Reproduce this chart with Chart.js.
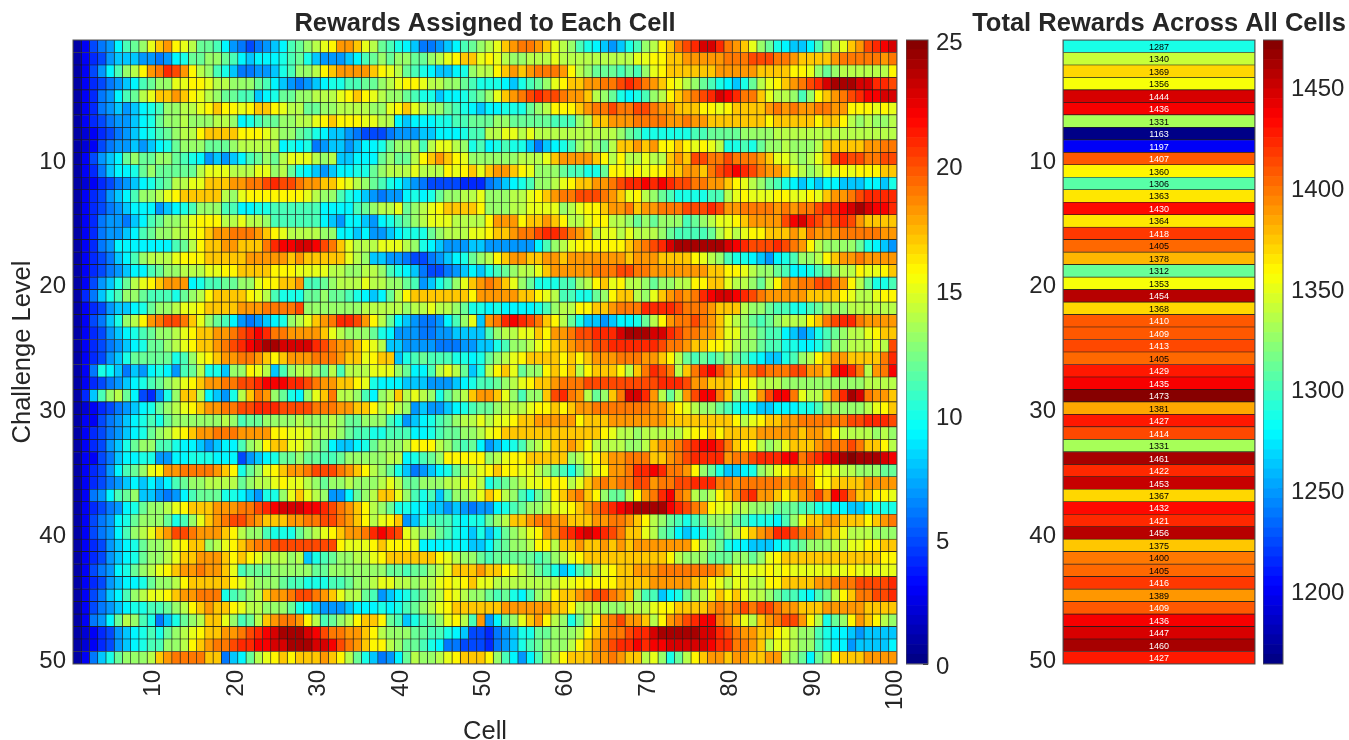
<!DOCTYPE html>
<html>
<head>
<meta charset="utf-8">
<title>Rewards</title>
<script src="https://cdn.jsdelivr.net/npm/chart.js@4/dist/chart.umd.min.js"></script>
<style>
  html, body { margin: 0; padding: 0; background: #fff; overflow: hidden; }
  body { position: relative; width: 1349px; height: 740px; }
  canvas { position: absolute; top: 0; }
</style>
</head>
<body>
<canvas id="heat-chart" style="left:0" width="970" height="747"></canvas>
<canvas id="heat-bar" style="left:906px" width="80" height="740"></canvas>
<canvas id="total-chart" style="left:969px" width="380" height="740"></canvas>
<canvas id="total-bar" style="left:1263px" width="86" height="740"></canvas>
<script>
var cellTicks = [10, 20, 30, 40, 50, 60, 70, 80, 90, 100];
var levelTicks = [10, 20, 30, 40, 50];
var heatBarTicks = [0, 5, 10, 15, 20, 25];
var totalBarTicks = [1200, 1250, 1300, 1350, 1400, 1450];

var totalRewards = [1287, 1340, 1369, 1356, 1444, 1436, 1331, 1163, 1197, 1407,
  1360, 1306, 1363, 1430, 1364, 1418, 1405, 1378, 1312, 1353,
  1454, 1368, 1410, 1409, 1413, 1405, 1429, 1435, 1473, 1381,
  1427, 1414, 1331, 1461, 1422, 1453, 1367, 1432, 1421, 1456,
  1375, 1400, 1405, 1416, 1389, 1409, 1436, 1447, 1460, 1427];

// one row per challenge level, 100 cells each
var cellRewards = [
[1,3,5,6,7,9,11,12,13,15,17,18,16,15,14,12,12,11,9,7,6,5,6,7,8,9,11,12,13,14,15,16,18,18,17,15,14,12,11,10,9,8,6,6,7,8,9,11,12,13,14,15,17,18,19,19,18,17,15,14,13,11,10,9,8,7,8,10,11,13,14,16,17,19,20,21,23,23,21,19,18,17,15,13,12,10,9,8,8,9,11,13,14,15,17,18,20,21,22,23],
[1,3,4,5,7,8,8,8,7,7,6,7,9,10,12,12,13,13,12,11,9,8,9,9,9,10,11,12,10,8,7,7,7,8,9,11,12,13,12,13,13,12,12,13,14,15,16,17,17,15,16,15,14,13,13,14,14,14,15,14,14,14,14,14,14,14,14,14,15,15,16,16,17,17,18,18,18,18,18,19,19,19,20,20,20,19,19,18,17,17,17,17,18,19,19,19,19,19,18,19],
[1,3,5,7,9,11,13,14,16,18,19,21,20,18,16,14,13,11,10,8,6,6,7,7,8,10,11,13,13,14,16,17,18,18,18,18,17,16,15,14,12,11,10,9,8,8,9,10,13,14,14,16,17,18,17,18,19,19,19,18,16,14,13,12,12,12,11,12,11,13,15,16,17,17,17,17,17,17,18,18,18,18,18,17,17,17,17,16,16,15,13,12,13,14,14,14,14,14,14,16],
[1,3,4,5,6,7,8,9,11,12,13,13,15,15,16,16,15,14,14,13,13,13,12,11,9,8,7,6,7,8,9,10,10,11,11,12,12,13,14,15,16,16,15,14,14,13,13,12,11,10,10,10,9,8,10,11,12,13,15,16,17,17,18,18,19,19,20,21,20,19,18,17,16,15,14,13,12,11,10,9,8,10,12,14,15,16,17,18,19,20,21,23,24,24,24,23,23,21,21,20],
[1,3,4,6,7,9,11,12,14,15,17,17,18,17,16,15,14,13,12,12,11,11,8,9,10,12,12,13,13,14,14,14,15,16,17,16,15,14,13,13,12,11,10,10,8,9,9,10,11,12,13,15,17,18,19,20,21,20,20,19,18,18,17,14,13,12,10,9,10,11,13,14,16,17,18,19,20,21,23,22,21,19,19,17,15,14,14,13,11,13,16,17,18,19,20,21,22,22,23,23],
[1,3,4,6,7,8,7,8,9,10,11,13,13,14,14,15,16,17,16,16,15,16,17,17,16,15,14,14,12,12,13,13,14,14,14,14,13,13,15,16,17,15,14,13,13,12,11,10,9,8,9,9,10,10,10,12,13,14,16,16,16,17,18,19,19,20,19,19,20,20,19,18,18,17,17,17,16,16,15,16,17,17,17,17,18,19,18,19,18,18,19,19,18,18,16,16,16,15,16,15],
[1,3,4,5,6,7,7,8,9,10,12,13,13,14,13,13,13,14,14,13,9,10,11,12,12,13,13,14,14,15,16,17,16,16,16,15,15,14,14,9,8,9,9,9,10,10,11,11,12,12,12,13,13,12,12,12,12,12,11,11,11,13,14,17,17,18,18,18,19,19,19,19,18,18,19,18,18,17,17,17,17,17,17,17,16,17,17,17,17,17,16,17,17,16,14,13,14,13,13,14],
[1,2,3,4,5,6,7,8,9,10,11,12,13,14,14,16,17,17,17,17,16,16,16,15,14,13,13,12,11,10,9,8,8,7,6,5,5,5,6,7,7,7,8,8,9,9,9,10,11,11,14,14,15,15,14,15,14,14,14,14,14,14,14,14,14,14,13,12,11,10,10,10,10,10,10,11,11,12,12,12,12,13,13,13,13,14,14,14,14,14,14,14,14,14,14,14,14,14,14,14],
[1,2,3,5,6,7,7,8,7,8,9,10,12,13,13,13,12,12,12,13,14,14,14,14,14,9,10,9,10,6,7,8,8,7,8,9,9,10,12,13,13,14,11,14,15,15,14,13,10,11,9,10,11,10,10,8,6,8,9,10,11,13,14,13,12,14,17,17,18,17,18,16,16,17,16,15,16,15,14,10,10,11,10,12,13,13,14,13,13,13,14,17,17,17,17,17,18,18,19,19],
[1,3,5,7,8,9,12,13,12,12,13,13,12,11,10,9,7,8,7,8,9,11,12,13,12,14,15,15,15,14,13,14,8,8,9,9,9,12,13,12,12,14,16,17,18,17,16,15,13,13,13,13,13,13,14,14,14,15,17,18,18,18,18,17,16,14,16,14,14,15,14,14,17,18,17,20,20,19,19,20,19,19,19,18,17,15,15,14,13,14,15,17,20,21,20,20,19,19,20,20],
[1,3,4,6,8,9,9,10,12,13,12,12,12,12,12,14,15,15,15,14,14,14,15,15,13,14,12,10,9,8,7,8,9,9,10,10,12,13,14,14,14,15,14,14,14,16,15,16,17,15,17,18,18,17,16,15,13,13,13,12,11,11,10,10,12,16,16,15,16,15,16,16,17,17,18,18,17,19,20,21,22,21,20,19,18,18,17,15,14,13,14,15,15,16,15,16,16,16,17,17],
[1,2,3,4,5,6,7,8,9,10,11,12,14,14,15,15,17,17,17,18,18,19,19,20,21,20,20,19,18,18,17,17,16,15,14,13,12,11,10,9,8,7,6,5,5,5,5,4,4,4,6,7,8,9,10,11,13,13,14,15,16,17,17,18,18,19,20,21,21,22,21,22,21,20,20,19,19,18,18,17,16,15,14,13,12,11,10,9,8,9,8,9,9,8,8,8,9,9,8,10],
[1,3,4,5,7,8,9,11,13,13,14,15,16,17,17,17,17,17,14,13,15,16,16,16,16,16,16,16,15,14,13,13,11,10,9,8,7,6,7,7,9,10,9,10,12,13,13,14,14,15,13,13,13,14,14,15,16,17,18,19,19,20,20,20,19,18,17,15,16,14,13,12,11,10,10,10,10,11,11,14,15,16,15,15,15,16,16,15,15,16,15,17,18,18,19,20,21,21,21,21],
[1,3,4,5,6,7,8,9,9,9,7,8,9,10,11,13,13,13,11,11,9,9,10,10,11,11,11,11,11,11,9,9,9,9,11,12,13,14,14,15,12,13,14,15,16,17,17,17,17,16,13,13,13,14,14,15,15,15,15,13,14,15,16,16,17,18,18,19,17,18,18,19,19,19,20,20,20,21,20,18,18,19,19,19,19,18,19,18,19,19,20,21,21,22,23,24,23,22,22,21],
[1,3,4,6,7,7,6,8,9,11,12,13,13,14,15,16,16,16,14,14,15,14,14,13,11,11,11,11,11,11,9,8,7,9,9,8,7,9,10,11,12,13,14,15,15,15,14,14,14,14,16,18,18,18,16,17,17,18,17,16,14,14,15,16,16,14,14,13,12,13,12,13,13,13,11,12,13,14,15,15,16,17,18,18,18,18,20,22,23,21,20,19,20,21,20,18,17,17,17,17],
[1,3,4,6,7,7,8,9,11,12,13,13,14,14,15,16,17,18,18,19,19,19,18,17,16,15,14,14,14,14,13,13,9,9,8,9,7,7,8,9,10,10,10,12,13,14,14,14,15,15,16,17,17,18,19,19,20,21,21,20,19,18,17,14,15,15,14,15,14,14,14,13,12,11,11,11,11,12,14,15,14,15,16,16,17,17,17,18,17,19,18,18,18,19,19,19,19,19,18,18],
[1,3,4,6,7,9,9,9,9,9,9,9,11,12,14,16,17,17,18,18,17,17,17,19,21,22,22,23,23,22,20,19,17,15,14,14,14,15,15,15,14,13,10,9,8,7,7,7,8,8,7,7,7,7,7,7,9,11,13,14,15,16,16,16,16,16,16,17,18,19,20,21,23,24,24,24,24,24,24,23,22,21,20,20,20,21,20,19,18,16,14,13,13,13,13,12,10,9,8,7],
[1,3,4,5,6,8,9,11,13,14,14,14,15,16,16,16,17,17,17,17,17,18,18,18,18,18,17,18,17,17,17,17,17,15,14,13,8,8,7,7,6,5,5,6,7,8,9,10,12,13,14,16,17,18,18,17,17,18,18,17,18,18,18,18,18,18,18,17,18,18,18,17,17,17,17,16,15,14,13,11,10,10,9,8,7,9,10,11,13,13,14,16,17,18,18,19,18,18,18,18],
[1,3,4,5,6,7,8,9,9,11,12,13,13,14,14,14,15,15,16,16,17,17,17,17,16,16,16,15,15,15,15,14,14,13,13,14,14,13,11,10,9,8,6,5,5,6,7,8,9,8,10,11,12,13,14,14,15,17,18,18,18,18,18,19,19,19,20,20,19,19,18,18,18,18,18,18,18,17,17,16,16,15,14,13,13,12,11,9,9,10,11,12,13,14,14,16,15,15,16,17],
[1,3,5,7,8,10,12,14,15,16,17,18,18,18,9,10,11,11,12,12,13,13,15,16,16,17,17,18,11,11,12,13,14,14,14,15,14,14,13,13,12,11,7,8,10,11,13,15,17,18,19,18,17,15,13,12,10,10,10,11,11,13,14,16,17,15,16,14,14,13,12,13,13,14,14,16,16,17,17,15,14,14,13,12,14,16,18,18,19,19,20,20,19,18,16,14,12,10,10,11],
[1,4,6,8,10,11,13,13,12,11,11,11,10,12,13,14,16,17,17,17,17,16,15,14,11,10,10,10,12,12,13,12,12,11,10,9,8,9,12,14,16,17,17,17,17,17,17,17,16,18,18,18,18,18,17,17,16,15,14,11,11,10,10,12,13,16,17,17,14,13,15,17,18,19,18,19,21,22,23,23,22,21,20,19,18,18,18,18,18,17,17,17,17,16,15,14,14,15,16,16],
[1,3,4,5,7,8,8,9,10,12,13,13,14,15,15,16,17,17,17,17,18,18,18,19,19,19,19,20,13,13,13,13,13,13,13,14,14,14,14,14,13,14,14,15,14,14,13,12,10,10,9,10,9,9,9,9,10,11,13,14,14,16,16,17,17,18,19,19,19,21,21,21,21,20,19,19,19,18,17,17,17,14,13,13,12,11,11,10,10,11,12,13,13,13,14,14,14,14,14,14],
[1,3,5,6,8,10,13,14,16,18,19,20,20,19,17,15,13,12,11,9,7,6,7,8,9,10,13,14,15,17,18,19,21,21,20,18,16,14,12,9,8,7,6,6,7,9,11,13,15,8,18,19,21,22,21,20,19,17,16,14,12,10,8,8,7,8,9,9,10,12,14,16,18,19,19,20,19,18,17,15,14,13,12,11,12,13,14,14,14,16,17,19,20,21,21,19,18,18,18,18],
[1,3,4,5,7,8,9,10,11,12,13,13,14,15,16,17,17,18,18,19,20,21,22,21,19,19,18,18,18,18,17,15,14,13,13,13,12,10,9,7,7,7,6,6,7,7,8,8,8,8,11,13,14,14,15,15,17,16,18,18,19,20,20,21,21,21,23,24,24,24,23,23,21,20,19,19,18,18,17,15,15,13,13,12,11,11,9,8,7,8,10,11,12,13,14,14,15,16,17,17],
[1,3,4,5,6,7,8,9,10,12,12,13,14,15,16,17,17,18,19,20,21,22,23,24,24,23,23,23,23,21,20,19,18,18,17,16,15,14,8,8,7,7,7,7,6,6,6,7,7,8,8,10,11,13,13,14,15,16,17,17,18,19,19,20,20,21,21,21,21,21,21,20,19,19,18,17,17,16,16,15,14,13,13,12,11,11,10,10,9,9,10,11,13,13,14,14,14,15,14,20],
[1,3,4,5,7,8,10,12,12,12,12,12,10,11,13,15,16,17,18,18,19,19,18,17,16,17,18,18,18,19,19,19,18,17,17,15,16,17,17,8,10,11,12,11,11,11,10,10,9,10,12,13,14,15,16,17,17,17,17,16,17,16,17,18,18,18,19,19,19,18,18,17,16,14,12,11,12,11,12,13,12,11,10,9,8,8,10,11,13,14,16,17,18,18,17,17,17,17,19,21],
[1,3,6,10,9,8,6,8,7,9,10,9,7,11,12,14,10,10,8,13,13,16,15,14,8,11,13,14,14,13,12,14,11,14,14,14,15,15,15,13,12,9,9,11,14,15,14,12,8,10,14,16,17,15,12,13,13,16,17,16,17,14,16,17,17,17,16,14,17,19,21,20,19,14,17,19,21,22,20,18,17,18,19,20,19,19,19,20,20,18,18,17,21,22,21,19,14,18,19,22],
[1,3,4,5,6,7,8,9,10,11,12,13,14,15,16,17,18,18,19,19,20,20,21,22,22,22,21,21,20,19,18,18,17,17,16,15,10,9,9,9,8,8,8,7,7,7,8,9,10,11,11,12,13,14,15,16,17,17,18,19,19,19,20,20,20,20,20,20,20,20,20,21,21,21,20,18,18,17,17,17,16,16,15,14,14,14,13,13,13,13,13,13,13,13,13,13,14,14,14,14],
[1,4,8,11,13,14,12,9,5,4,7,10,13,17,17,14,9,8,7,10,14,17,19,18,13,12,10,9,13,15,17,19,14,14,13,11,9,13,14,17,14,15,14,13,10,12,13,14,17,18,18,17,15,13,11,13,13,17,20,21,19,18,14,12,13,17,19,23,23,21,18,14,12,14,18,20,22,22,19,17,13,13,15,18,20,22,22,19,15,14,14,17,19,21,24,23,19,18,18,17],
[1,2,3,4,5,6,7,8,9,10,12,13,14,15,16,17,18,18,19,19,20,20,21,21,21,20,20,20,20,19,19,19,18,18,17,17,16,14,15,14,13,7,8,7,7,8,9,10,11,12,12,13,14,14,14,15,16,16,17,16,17,18,18,19,19,19,19,19,19,19,18,18,17,16,15,14,13,13,12,11,10,9,9,8,8,9,9,9,10,10,11,13,13,13,13,13,14,15,16,17],
[1,3,3,5,6,7,8,9,10,11,10,12,13,13,13,13,13,13,14,13,11,12,12,13,13,13,13,14,13,13,13,14,13,12,12,13,13,13,11,10,7,8,9,10,11,12,13,14,14,15,14,15,15,16,17,17,18,18,18,18,18,16,17,17,17,18,18,18,18,18,18,18,17,17,17,17,17,17,17,17,16,14,15,16,17,17,18,18,19,19,19,19,19,19,20,20,21,21,21,20],
[1,3,4,5,6,7,8,9,10,12,13,14,15,16,17,18,18,19,19,19,18,18,18,18,16,16,15,15,15,14,14,14,13,12,11,11,10,10,11,11,11,9,9,10,11,12,12,13,13,14,15,16,17,17,17,17,17,17,17,17,17,17,17,17,16,15,14,14,13,14,14,14,14,14,15,16,16,17,16,17,17,17,17,18,18,18,18,18,17,18,18,17,16,14,14,14,14,13,14,13],
[1,3,4,5,7,8,10,12,13,13,11,11,10,9,9,8,7,8,9,9,11,13,14,16,17,17,15,15,14,13,12,9,8,8,9,10,12,13,13,13,14,16,16,16,14,13,12,11,12,9,7,8,9,10,11,13,14,15,17,17,18,17,16,14,14,14,14,13,13,14,17,18,18,19,20,21,22,22,21,19,17,16,16,14,13,14,15,17,17,17,18,19,19,19,20,19,17,17,16,14],
[1,3,3,5,6,8,9,9,10,10,7,7,9,9,10,10,10,9,9,9,5,7,8,9,10,12,12,13,12,12,11,11,12,13,13,13,13,13,14,14,9,10,11,12,13,16,16,16,16,16,13,14,15,16,16,17,17,17,17,17,13,14,15,16,17,18,18,19,19,19,17,17,18,19,20,21,21,21,21,18,19,19,20,21,21,21,22,22,19,20,21,22,23,24,25,24,24,24,23,22],
[1,3,4,5,7,9,11,12,13,15,16,18,18,19,19,19,19,18,17,16,10,12,13,15,16,17,18,18,19,20,20,20,19,18,17,16,14,13,12,10,8,6,7,8,9,10,12,13,14,15,16,17,16,16,15,15,14,13,12,11,10,12,14,15,16,18,18,19,21,21,22,21,19,19,18,16,13,12,10,8,8,9,10,13,14,15,16,17,17,17,16,15,15,14,14,13,13,13,12,12],
[1,3,4,5,6,7,8,9,8,9,8,9,11,12,13,13,14,14,14,14,12,13,14,14,15,16,15,15,14,13,12,13,13,14,13,13,13,14,15,14,12,12,13,13,13,14,14,15,15,14,10,11,12,13,14,15,15,16,16,16,14,15,17,18,19,18,19,19,20,20,18,19,19,20,20,21,21,21,19,19,18,19,19,19,19,19,18,19,19,18,16,16,17,17,17,17,18,18,18,18],
[1,3,6,7,9,11,12,13,8,8,7,6,7,9,11,12,12,12,10,10,9,8,7,10,10,13,15,17,15,14,13,7,7,9,12,13,14,17,17,15,13,11,10,11,8,11,13,13,14,15,17,16,14,13,11,10,12,13,16,17,18,19,17,16,13,12,12,14,16,18,19,21,22,19,18,14,13,14,16,17,18,20,21,18,18,17,16,17,18,19,20,18,22,21,19,17,17,16,16,15],
[1,3,4,5,6,7,9,10,12,13,13,14,15,16,17,17,17,18,18,18,19,19,20,21,22,23,23,23,22,22,21,20,19,18,17,16,14,13,12,10,10,9,9,8,8,7,8,7,6,7,7,9,10,11,12,13,13,14,15,15,16,17,18,19,20,21,22,23,24,24,24,24,22,21,20,19,18,16,15,15,14,14,13,13,13,12,12,12,11,11,10,10,9,9,8,8,9,10,10,10],
[1,3,5,6,7,9,10,12,13,13,13,12,10,11,13,15,17,18,19,20,20,19,18,17,17,17,18,18,19,19,20,20,19,18,17,16,14,15,16,17,7,8,10,11,11,11,10,9,10,10,12,13,14,17,17,18,19,19,18,18,17,17,17,18,18,19,19,18,17,16,14,13,12,11,10,11,12,13,13,13,12,11,10,10,10,9,11,13,15,17,17,18,18,17,17,17,16,17,18,19],
[1,3,5,6,7,9,11,13,14,15,17,18,20,20,19,18,18,18,17,16,14,13,13,11,10,10,10,12,13,14,15,16,17,18,18,19,21,22,21,20,15,14,13,13,12,11,10,9,8,10,8,10,12,13,14,15,16,18,18,20,21,22,23,22,21,20,19,17,17,15,14,12,11,9,8,9,10,11,12,13,14,16,17,18,19,21,21,20,19,19,18,17,17,15,14,14,14,13,13,13],
[1,3,4,5,7,8,9,10,12,13,13,14,15,16,17,17,13,14,15,16,17,18,19,19,20,20,20,20,20,20,20,20,16,15,15,15,16,17,16,16,16,15,9,9,9,9,9,9,8,8,9,11,12,13,13,14,16,16,14,17,17,18,17,17,18,17,18,17,18,18,18,18,18,18,18,16,14,13,12,10,9,9,8,8,8,9,10,11,12,13,13,13,14,14,15,15,16,16,17,17],
[1,3,4,5,7,8,9,10,12,13,13,14,15,17,17,18,18,18,17,16,17,16,15,14,14,14,13,14,8,10,11,12,13,13,14,14,15,16,17,17,17,17,17,17,16,15,14,13,13,12,11,12,12,12,12,12,11,12,13,14,15,16,17,17,17,17,17,17,17,17,17,17,16,14,13,13,13,12,12,12,13,13,12,13,15,16,17,17,17,17,17,17,17,17,17,17,17,17,16,16],
[1,3,5,6,7,9,10,12,13,14,15,16,17,18,18,19,18,18,17,15,11,12,12,12,13,13,13,13,13,12,12,13,13,13,13,13,13,13,12,12,11,12,12,13,14,15,17,17,17,18,17,17,16,15,14,13,12,11,10,8,9,11,12,14,15,16,17,17,18,18,18,19,19,19,19,19,19,19,18,17,15,15,15,15,16,15,16,15,15,15,15,15,15,15,16,15,15,15,15,15],
[1,3,4,5,7,8,9,9,10,12,13,13,14,16,17,17,17,17,17,16,15,14,13,13,13,12,11,11,10,10,10,11,11,12,13,13,14,15,15,14,14,13,14,14,15,16,15,16,17,15,15,14,14,14,14,14,14,14,14,15,15,16,16,16,16,16,17,17,17,17,18,18,18,18,18,17,17,16,15,14,15,15,14,14,16,16,17,17,17,17,18,18,19,19,19,20,20,20,20,21],
[1,3,5,6,8,9,11,13,14,15,15,16,17,18,18,19,19,19,10,11,12,13,14,17,18,18,19,20,20,19,18,17,15,14,14,12,11,7,8,9,10,11,12,13,14,16,15,14,13,13,12,11,12,10,9,11,13,14,16,17,17,18,19,20,20,19,18,17,13,11,11,8,9,10,12,13,14,15,17,16,17,15,14,14,13,12,11,11,10,9,11,12,14,16,17,19,19,20,20,21],
[1,3,5,6,7,8,9,10,10,11,11,12,13,14,16,17,18,17,17,16,15,14,14,13,13,13,12,10,9,8,7,7,7,8,9,9,9,10,9,10,11,12,13,14,15,16,17,17,17,17,17,17,18,18,18,18,18,18,17,17,16,14,14,14,13,13,13,14,14,14,15,16,16,17,17,17,17,18,19,18,19,20,19,20,20,19,18,18,17,17,17,18,18,18,18,18,17,17,17,17],
[1,3,6,7,9,12,14,13,11,10,6,8,10,12,13,14,17,17,15,13,11,12,14,17,18,19,19,18,16,14,11,12,13,14,16,17,17,16,12,11,8,10,11,12,13,15,16,14,11,18,7,9,12,13,15,17,18,16,14,13,10,12,14,16,18,19,20,18,18,17,14,16,18,19,20,21,22,22,19,18,17,15,14,17,18,19,20,20,18,16,14,10,12,13,16,18,17,16,14,13],
[1,2,3,4,5,7,8,9,10,11,10,12,13,14,15,16,17,17,18,18,19,20,21,22,23,24,24,24,23,22,20,19,19,18,18,17,16,14,13,13,13,12,12,11,11,10,9,8,5,5,4,6,7,8,10,10,12,12,13,13,13,14,16,17,18,19,19,20,21,21,23,24,24,24,24,24,23,23,21,20,19,18,18,17,17,16,15,14,13,13,11,10,9,9,8,7,8,8,8,8],
[1,2,3,4,5,7,8,9,10,11,11,13,13,14,16,17,18,19,19,20,21,21,22,22,23,23,24,24,24,23,23,22,20,19,18,17,16,16,14,13,12,12,11,10,9,6,6,5,5,5,4,6,7,8,10,11,12,13,13,13,14,16,17,18,19,20,21,21,22,21,22,22,23,23,23,23,23,22,21,21,19,19,18,17,14,15,15,14,13,13,11,10,9,9,7,8,8,8,8,9],
[1,3,6,8,10,12,13,13,13,14,17,18,19,19,19,19,17,17,6,8,9,12,14,15,16,17,16,17,17,17,18,17,16,14,12,10,8,6,7,9,12,14,13,13,14,15,16,17,17,17,16,13,11,9,7,9,11,13,14,16,17,17,17,18,18,19,18,17,17,14,15,13,10,12,14,16,17,18,18,17,18,18,17,17,18,18,14,13,12,9,12,13,16,17,17,17,18,18,18,18]
];

// MATLAB style jet, 64 steps
function jetColor(fraction) {
  var step = Math.min(63, Math.max(0, Math.floor(fraction * 64)));
  var x = (step + 0.5) / 64;
  function clamp(v) { return Math.round(255 * Math.max(0, Math.min(1, v))); }
  return 'rgb(' + clamp(Math.min(4 * x - 1.5, -4 * x + 4.5)) + ',' +
    clamp(Math.min(4 * x - 0.5, -4 * x + 3.5)) + ',' +
    clamp(Math.min(4 * x + 0.5, -4 * x + 2.5)) + ')';
}

var textColor = '#262626';
var fontFamily = '"Liberation Sans", Arial, sans-serif';
var tickFont = { family: fontFamily, size: 24 };
var labelFont = { family: fontFamily, size: 25.5 };
var titleFont = { family: fontFamily, size: 25.5, weight: 'bold', lineHeight: 1.1 };
var titlePadding = { top: 10, bottom: 1.95 };
var totalMin = 1163;
var totalMax = 1473;

var levelLabels = cellRewards.map(function (row, i) { return i + 1; });

// box around the plot area
var framePlugin = {
  id: 'frame',
  afterDraw: function (chart) {
    var a = chart.chartArea;
    var ctx = chart.ctx;
    ctx.save();
    ctx.strokeStyle = '#555';
    ctx.lineWidth = 1;
    ctx.strokeRect(a.left, a.top, a.right - a.left, a.bottom - a.top);
    ctx.restore();
  }
};

// value printed in the middle of every total cell
var totalLabelPlugin = {
  id: 'totalLabels',
  afterDatasetsDraw: function (chart) {
    var ctx = chart.ctx;
    var xMid = chart.scales.x.getPixelForValue(0.5);
    ctx.save();
    ctx.font = '9px ' + fontFamily;
    ctx.textAlign = 'center';
    ctx.textBaseline = 'middle';
    totalRewards.forEach(function (value, i) {
      ctx.fillStyle = (value < 1250 || value >= 1407) ? '#fff' : '#000';
      ctx.fillText(String(value), xMid, chart.scales.y.getPixelForValue(i) + 1);
    });
    ctx.restore();
  }
};

function levelAxis(width) {
  return {
    type: 'category',
    afterFit: function (scale) { scale.width = width; },
    grid: { display: false, drawTicks: false },
    border: { display: false },
    ticks: {
      autoSkip: false,
      padding: 7,
      labelOffset: 3.5,
      color: textColor,
      font: tickFont,
      callback: function (value, index) {
        return levelTicks.indexOf(index + 1) >= 0 ? String(index + 1) : '';
      }
    }
  };
}

// empty axis on the right, keeps the title centred on the plot
function spacerAxis(width) {
  return {
    type: 'linear',
    position: 'right',
    afterFit: function (scale) { scale.width = width; },
    grid: { display: false, drawTicks: false },
    border: { display: false },
    ticks: { display: false }
  };
}

// -- Rewards heat map --
var heatDatasets = [];
for (var c = 0; c < 100; c++) {
  heatDatasets.push({
    grouped: false,
    barPercentage: 1,
    categoryPercentage: 1,
    borderWidth: 0.65,
    borderSkipped: false,
    borderColor: '#1c1c1c',
    data: levelLabels.map(function () { return [c + 0.5, c + 1.5]; }),
    backgroundColor: cellRewards.map(function (row) { return jetColor(row[c] / 25); })
  });
}

var heatYAxis = levelAxis(73);
heatYAxis.title = { display: true, text: 'Challenge Level', color: textColor, font: labelFont, padding: { top: 8, bottom: 0 } };

new Chart(document.getElementById('heat-chart'), {
  type: 'bar',
  data: { labels: levelLabels, datasets: heatDatasets },
  plugins: [framePlugin],
  options: {
    indexAxis: 'y',
    responsive: false,
    animation: false,
    plugins: {
      legend: { display: false },
      tooltip: { enabled: false },
      title: { display: true, text: 'Rewards Assigned to Each Cell', color: textColor, font: titleFont, padding: titlePadding }
    },
    scales: {
      x: {
        type: 'linear',
        min: 0.5,
        max: 100.5,
        afterFit: function (scale) { scale.height = 83; },
        afterBuildTicks: function (scale) {
          scale.ticks = cellTicks.map(function (v) { return { value: v }; });
        },
        grid: { display: false, drawTicks: false },
        border: { display: false },
        title: { display: true, text: 'Cell', color: textColor, font: labelFont, padding: { top: 0, bottom: 0 } },
        ticks: {
          autoSkip: false,
          minRotation: 90,
          maxRotation: 90,
          padding: 6,
          labelOffset: 2.5,
          color: textColor,
          font: tickFont,
          callback: function (value) { return String(value); }
        }
      },
      y: heatYAxis,
      y2: spacerAxis(73)
    }
  }
});

// -- Colour bars --
function colorBar(canvasId, min, max, ticks, width) {
  var steps = [];
  for (var s = 0; s < 64; s++) {
    steps.push({
      grouped: false,
      barPercentage: 1,
      categoryPercentage: 1,
      borderWidth: 0,
      data: [[min + (max - min) * s / 64, min + (max - min) * (s + 1) / 64]],
      backgroundColor: jetColor((s + 0.5) / 64)
    });
  }
  new Chart(document.getElementById(canvasId), {
    type: 'bar',
    data: { labels: ['bar'], datasets: steps },
    plugins: [framePlugin],
    options: {
      responsive: false,
      animation: false,
      layout: { padding: { top: 40, bottom: 76 } },
      plugins: { legend: { display: false }, tooltip: { enabled: false } },
      scales: {
        x: { display: false },
        y: {
          type: 'linear',
          position: 'right',
          min: min,
          max: max,
          afterFit: function (scale) { scale.width = width; },
          afterBuildTicks: function (scale) {
            scale.ticks = ticks.map(function (v) { return { value: v }; });
          },
          grid: { drawOnChartArea: false, tickLength: -5, color: '#333', tickColor: '#333' },
          border: { display: false },
          ticks: {
            padding: 13,
            labelOffset: 3.5,
            color: textColor,
            font: tickFont,
            callback: function (value) { return String(value); }
          }
        }
      }
    }
  });
}

colorBar('heat-bar', 0, 25, heatBarTicks, 58);
colorBar('total-bar', totalMin, totalMax, totalBarTicks, 66);

// -- Total rewards column --
new Chart(document.getElementById('total-chart'), {
  type: 'bar',
  data: {
    labels: levelLabels,
    datasets: [{
      barPercentage: 1,
      categoryPercentage: 1,
      borderWidth: 0.65,
      borderSkipped: false,
      borderColor: '#1c1c1c',
      data: totalRewards.map(function () { return [0, 1]; }),
      backgroundColor: totalRewards.map(function (v) { return jetColor((v - totalMin) / (totalMax - totalMin)); })
    }]
  },
  plugins: [framePlugin, totalLabelPlugin],
  options: {
    indexAxis: 'y',
    responsive: false,
    animation: false,
    layout: { padding: { bottom: 76 } },
    plugins: {
      legend: { display: false },
      tooltip: { enabled: false },
      title: { display: true, text: 'Total Rewards Across All Cells', color: textColor, font: titleFont, padding: titlePadding }
    },
    scales: {
      x: { type: 'linear', min: 0, max: 1, display: false },
      y: levelAxis(94),
      y2: spacerAxis(94)
    }
  }
});
</script>
</body>
</html>
